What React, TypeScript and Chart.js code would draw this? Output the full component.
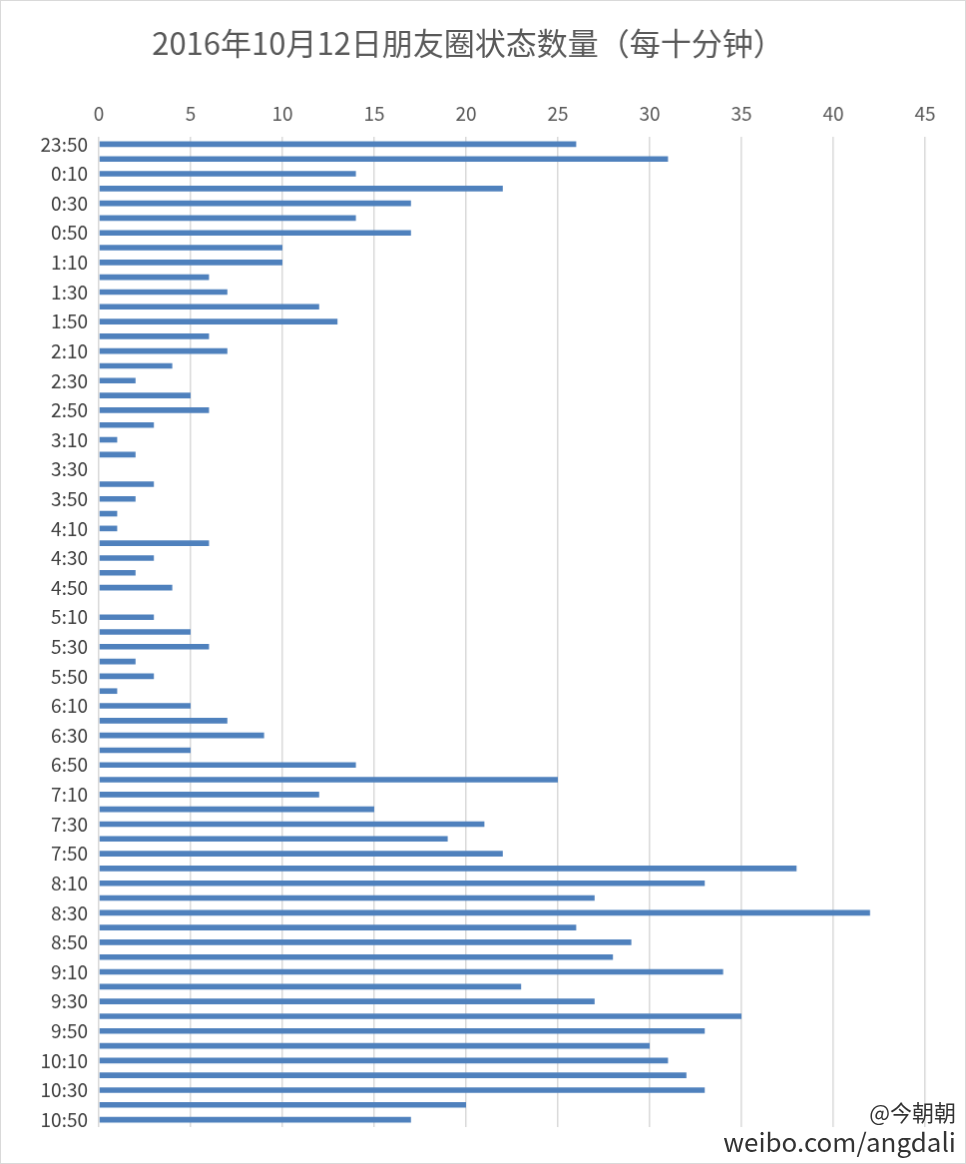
import React, { useEffect, useRef } from "react";
import { Chart, registerables } from "chart.js";
Chart.register(...registerables);

const times: string[] = [];
for (let i = 0; i < 67; i++) {
  const m = (23 * 60 + 50 + i * 10) % (24 * 60);
  times.push(`${Math.floor(m / 60)}:${String(m % 60).padStart(2, "0")}`);
}
const counts = [
  26, 31, 14, 22, 17, 14, 17, 10, 10, 6, 7, 12, 13, 6, 7, 4, 2, 5, 6, 3, 1, 2, 0, 3, 2, 1, 1, 6, 3, 2, 4,
  0, 3, 5, 6, 2, 3, 1, 5, 7, 9, 5, 14, 25, 12, 15, 21, 19, 22, 38, 33, 27, 42, 26, 29, 28, 34, 23, 27,
  35, 33, 30, 31, 32, 33, 20, 17,
];
const titleText = "2016年10月12日朋友圈状态数量（每十分钟）";

export default function App() {
  const ref = useRef<HTMLCanvasElement>(null);
  useEffect(() => {
    document.body.style.margin = "0";
    const font = "'Noto Sans CJK SC', 'Open Sans', sans-serif";
    const chart = new Chart(ref.current!, {
      type: "bar",
      data: {
        labels: times,
        datasets: [{ data: counts, backgroundColor: "#4f81bd", barPercentage: 0.38, categoryPercentage: 1 }],
      },
      options: {
        indexAxis: "y",
        animation: false,
        responsive: false,
        layout: { padding: { left: 10, right: 40, top: 24, bottom: 36 } },
        plugins: {
          legend: { display: false },
          tooltip: { enabled: false },
          title: { display: true, text: titleText, color: "#595959", font: { family: font, size: 31, weight: "normal" }, padding: { bottom: 28 } },
        },
        scales: {
          x: {
            position: "top", min: 0, max: 45,
            ticks: { stepSize: 5, color: "#595959", font: { family: font, size: 19 }, padding: 12 },
            grid: { color: "#d9d9d9", drawTicks: false, lineWidth: 1.5 },
            border: { display: false },
          },
          y: {
            afterFit: (s: any) => { s.width = 88; },
            ticks: {
              autoSkip: false, color: "#404040", font: { family: font, size: 19 },
              callback: (v: any, i: number) => (i % 2 === 0 ? times[i] : ""),
            },
            grid: { display: false },
            border: { display: false },
          },
        },
      },
    });
    return () => chart.destroy();
  }, []);
  return (
    <div style={{ position: "relative", width: 966, height: 1164 }}>
      <canvas ref={ref} width={966} height={1164} style={{ border: "1px solid #d9d9d9", boxSizing: "border-box" }} />
      <div style={{ position: "absolute", right: 10, bottom: 8, fontFamily: "'Noto Sans CJK SC', sans-serif", fontSize: 26, color: "#333", textAlign: "right", lineHeight: 1.2 }}>
        <div style={{ fontSize: 22 }}>@今朝朝</div>
        <div>weibo.com/angdali</div>
      </div>
    </div>
  );
}
